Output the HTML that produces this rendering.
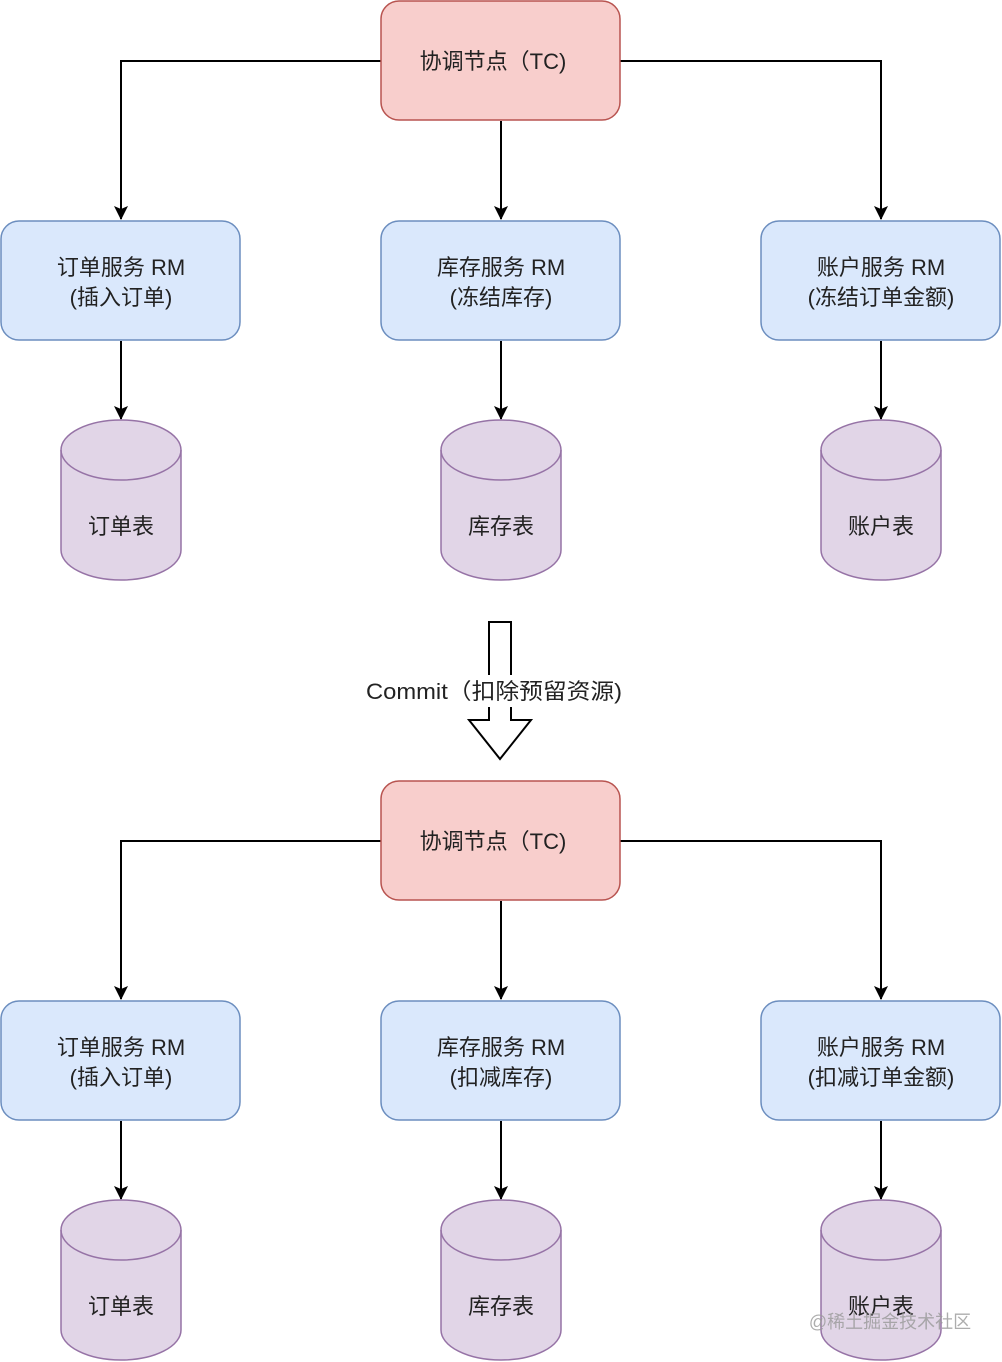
<!DOCTYPE html>
<html><head><meta charset="utf-8"><style>
html,body{margin:0;padding:0;background:#fff;}
svg{display:block;}
text{font-family:"Liberation Sans","Noto Sans CJK SC",sans-serif;font-size:22px;fill:#222;text-anchor:middle;}
</style></head><body>
<svg width="1002" height="1362" viewBox="0 0 1002 1362" xmlns="http://www.w3.org/2000/svg">
<defs>
<marker id="ah" markerWidth="14" markerHeight="14" refX="13" refY="7" orient="auto" markerUnits="userSpaceOnUse" viewBox="0 0 14 14">
<path d="M0,0 L14,7 L0,14 L3,7 Z" fill="#000"/></marker>
<g id="half">
  <g stroke="#000" stroke-width="2" fill="none">
    <path d="M381,61 H121 V219" marker-end="url(#ah)"/>
    <path d="M620,61 H881 V219" marker-end="url(#ah)"/>
    <path d="M501,121 V219" marker-end="url(#ah)"/>
    <path d="M121,341 V419" marker-end="url(#ah)"/>
    <path d="M501,341 V419" marker-end="url(#ah)"/>
    <path d="M881,341 V419" marker-end="url(#ah)"/>
  </g>
  <rect x="381" y="1" width="239" height="119" rx="18" fill="#f8cecc" stroke="#b85450" stroke-width="1.5"/>
  <g fill="#dae8fc" stroke="#6c8ebf" stroke-width="1.5">
    <rect x="1" y="221" width="239" height="119" rx="18"/>
    <rect x="381" y="221" width="239" height="119" rx="18"/>
    <rect x="761" y="221" width="239" height="119" rx="18"/>
  </g>
  <g fill="#e1d5e7" stroke="#9673a6" stroke-width="1.5">
    <path d="M61,450 A60,30 0 0 1 181,450 V550 A60,30 0 0 1 61,550 Z"/>
    <path d="M61,450 A60,30 0 0 0 181,450" fill="none"/>
    <path d="M441,450 A60,30 0 0 1 561,450 V550 A60,30 0 0 1 441,550 Z"/>
    <path d="M441,450 A60,30 0 0 0 561,450" fill="none"/>
    <path d="M821,450 A60,30 0 0 1 941,450 V550 A60,30 0 0 1 821,550 Z"/>
    <path d="M821,450 A60,30 0 0 0 941,450" fill="none"/>
  </g>
</g>
</defs>
<use href="#half"/>
<use href="#half" y="780"/>

<text x="493" y="69">协调节点（TC)</text>
<text x="121" y="275">订单服务 RM</text>
<text x="121" y="305">(插入订单)</text>
<text x="501" y="275">库存服务 RM</text>
<text x="501" y="305">(冻结库存)</text>
<text x="881" y="275">账户服务 RM</text>
<text x="881" y="305">(冻结订单金额)</text>
<text x="121" y="534">订单表</text>
<text x="501" y="534">库存表</text>
<text x="881" y="534">账户表</text>

<text x="493" y="849">协调节点（TC)</text>
<text x="121" y="1055">订单服务 RM</text>
<text x="121" y="1085">(插入订单)</text>
<text x="501" y="1055">库存服务 RM</text>
<text x="501" y="1085">(扣减库存)</text>
<text x="881" y="1055">账户服务 RM</text>
<text x="881" y="1085">(扣减订单金额)</text>
<text x="121" y="1314">订单表</text>
<text x="501" y="1314">库存表</text>
<text x="881" y="1314">账户表</text>

<path d="M489,622 H511 V720 H531 L500,759 L469,720 H489 Z" fill="#fff" stroke="#000" stroke-width="2"/>
<rect x="362" y="675" width="264" height="32" fill="#fff"/>
<text x="494" y="699" textLength="256" lengthAdjust="spacingAndGlyphs">Commit（扣除预留资源)</text>

<text x="890" y="1328" style="font-size:18px;fill:#999;fill-opacity:0.8">@稀土掘金技术社区</text>
</svg>
</body></html>
